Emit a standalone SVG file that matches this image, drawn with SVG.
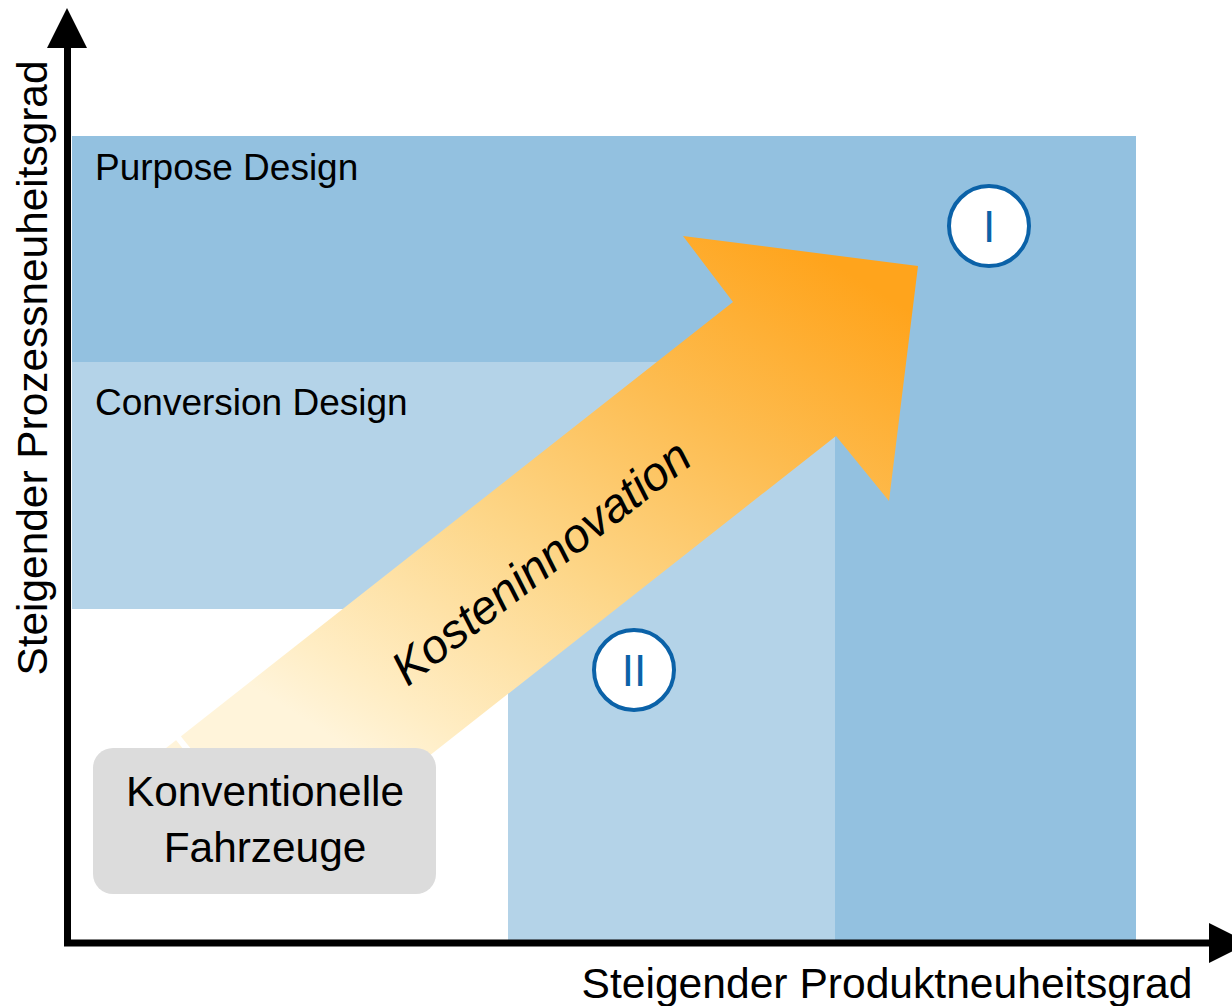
<svg xmlns="http://www.w3.org/2000/svg" width="1232" height="1006" viewBox="0 0 1232 1006">
  <defs>
    <linearGradient id="costGrad" gradientUnits="userSpaceOnUse" x1="790" y1="235" x2="430" y2="800">
      <stop offset="0" stop-color="#FFA41C"/>
      <stop offset="0.3" stop-color="#FDBC50"/>
      <stop offset="0.6" stop-color="#FDD688"/>
      <stop offset="0.9" stop-color="#FFEDC4"/>
      <stop offset="1" stop-color="#FFF4DA"/>
    </linearGradient>
    <style>
      .lbl { font-family: "Liberation Sans", Arial, sans-serif; fill: #000; }
      .mid { fill: #93C1E0; }
      .light { fill: #B4D3E8; }
      .badge circle { fill: #FFFFFF; stroke: #0B62A8; stroke-width: 4; }
      .badge text { font-family: "Liberation Sans", Arial, sans-serif; font-size: 44px; fill: #0B62A8; text-anchor: middle; }
      .axis { stroke: #000; stroke-width: 7; fill: none; }
    </style>
  </defs>

  <rect width="1232" height="1006" fill="#FFFFFF"/>

  <!-- Purpose design region: top band + right column -->
  <g id="purpose-design">
    <rect class="mid" x="72" y="136" width="1064" height="226"/>
    <rect class="mid" x="835" y="136" width="301" height="804"/>
    <text class="lbl" x="95" y="180" font-size="37">Purpose Design</text>
  </g>

  <!-- Conversion design region: middle band + column -->
  <g id="conversion-design">
    <rect class="light" x="72" y="362" width="763" height="247"/>
    <rect class="light" x="508" y="362" width="327" height="578"/>
    <text class="lbl" x="95" y="415" font-size="37">Conversion Design</text>
  </g>

  <!-- Cost innovation arrow -->
  <g id="kosteninnovation">
    <polygon points="918,266 889,501 836,436 265,885 161,752 733,302 683,236" fill="url(#costGrad)"/>
    <line x1="171" y1="729" x2="192" y2="755" stroke="#FFFFFF" stroke-width="6"/>
    <text class="lbl" font-size="47.5" font-style="italic" text-anchor="middle" transform="translate(551,575) rotate(-38)">Kosteninnovation</text>
  </g>

  <g id="badge-1" class="badge">
    <circle cx="989" cy="226" r="40"/>
    <text x="989" y="242">I</text>
  </g>

  <g id="badge-2" class="badge">
    <circle cx="634" cy="670" r="40"/>
    <text x="634" y="686">II</text>
  </g>

  <g id="konventionelle-fahrzeuge">
    <rect x="93" y="748" width="343" height="146" rx="20" ry="20" fill="#DCDCDC"/>
    <text class="lbl" font-size="42.4" text-anchor="middle" x="265" y="806">Konventionelle</text>
    <text class="lbl" font-size="42.4" text-anchor="middle" x="265" y="862">Fahrzeuge</text>
  </g>

  <!-- Axes -->
  <g id="axes">
    <polyline class="axis" points="67.5,46 67.5,943 1212,943"/>
    <polygon points="67,8 47,48 87,48" fill="#000"/>
    <polygon points="1249,943 1209,923 1209,963" fill="#000"/>
    <text class="lbl" font-size="42.6" text-anchor="middle" x="887" y="998">Steigender Produktneuheitsgrad</text>
    <text class="lbl" font-size="42.4" text-anchor="middle" transform="translate(47,368) rotate(-90)">Steigender Prozessneuheitsgrad</text>
  </g>
</svg>
